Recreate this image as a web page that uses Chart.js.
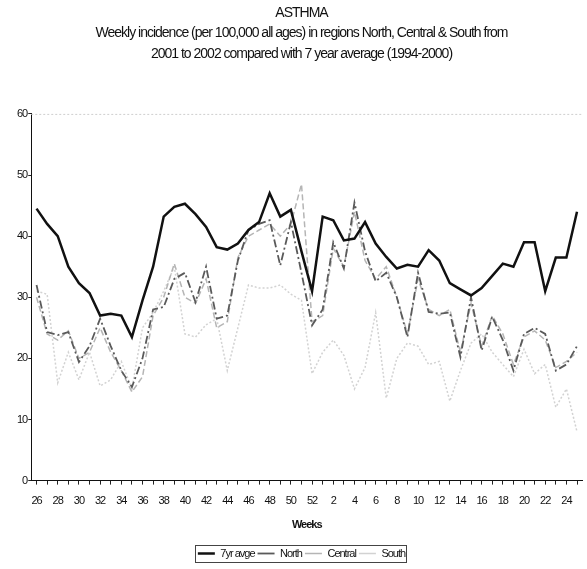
<!DOCTYPE html>
<html lang="en">
<head>
  <meta charset="UTF-8">
  <title>Asthma weekly incidence</title>
  <script src="https://cdn.jsdelivr.net/npm/chart.js"></script>
  <style>
    body {
      margin: 0;
      background: #fff;
    }

    .chart-box {
      width: 587px;
      height: 569px;
    }
  </style>
</head>
<body>

  <div class="chart-box">
    <canvas id="asthmaChart"></canvas>
  </div>

  <script>
    // weeks 26..52 of 2001, then 1..25 of 2002
    const weeks = [26, 27, 28, 29, 30, 31, 32, 33, 34, 35, 36, 37, 38, 39, 40, 41, 42, 43, 44, 45, 46, 47, 48, 49, 50, 51, 52,
      1, 2, 3, 4, 5, 6, 7, 8, 9, 10, 11, 12, 13, 14, 15, 16, 17, 18, 19, 20, 21, 22, 23, 24, 25];

    const avg7yr = [44.5, 42, 40, 35, 32.3, 30.7, 27, 27.3, 27, 23.5, 29.5, 35, 43.2, 44.8, 45.3, 43.6, 41.5, 38.2, 37.8, 38.8, 41, 42.3, 47, 43.2, 44.3, 37.5, 31,
      43.2, 42.6, 39.3, 39.6, 42.3, 38.8, 36.6, 34.7, 35.3, 35, 37.7, 36, 32.3, 31.3, 30.3, 31.5, 33.5, 35.5, 35, 39, 39, 31, 36.5, 36.5, 44];

    const north = [32, 24.3, 23.8, 24.3, 19.4, 22, 26.5, 22, 18, 15.3, 20, 28, 28.4, 33, 34, 29.2, 35, 26.5, 27, 36, 41, 42, 42.6, 35.2, 42.3, 34, 25.4,
      28, 39, 34.7, 45.5, 37.5, 32.6, 34, 30, 23.5, 34, 27.6, 27.3, 27.5, 20.2, 30, 21.3, 26.8, 23, 18, 24, 25, 24, 18, 19, 22];

    const central = [30, 24, 23, 24.5, 20, 21, 25, 21, 18, 14.5, 17, 27, 30, 35.5, 30, 29, 33, 25, 26, 36.5, 40, 41, 42, 40, 42, 48.5, 26,
      27, 38, 35, 44, 36, 33, 35, 30, 24, 33, 28, 27, 28, 21, 29, 22, 27, 24, 19, 23.5, 24.5, 23, 18.5, 19.5, 21];

    const south = [31, 30.5, 16, 21, 16.5, 21, 15.5, 16.5, 19.5, 15, 25, 27.5, 31, 35, 24, 23.5, 25.5, 26.5, 18, 25, 32, 31.5, 31.5, 32, 30.5, 29.5, 17.5,
      21, 23, 20.5, 15, 18.5, 27.5, 13.5, 20, 22.5, 22, 19, 19.5, 13, 18, 22.5, 24, 21, 19, 17, 21.5, 17.5, 19, 12, 15, 8];

    const yTicks = [0, 10, 20, 30, 40, 50, 60];

    const font = '"Liberation Sans", Arial, sans-serif';

    // the original uses a squashed narrow face, so tighten the letters
    const tightText = {
      id: 'tightText',
      beforeUpdate(chart) { chart.ctx.letterSpacing = '-1px'; },
      beforeDraw(chart) { chart.ctx.letterSpacing = '-1px'; }
    };

    // box round the legend + faint dotted top edge
    const framePlugin = {
      id: 'frame',
      afterDraw(chart) {
        const ctx = chart.ctx;
        const area = chart.chartArea;
        ctx.save();
        ctx.strokeStyle = '#cfcfcf';
        ctx.lineWidth = 1;
        ctx.setLineDash([2, 2]);
        ctx.beginPath();
        ctx.moveTo(area.left, area.top + 0.5);
        ctx.lineTo(area.right, area.top + 0.5);
        ctx.stroke();

        const boxes = chart.legend.legendHitBoxes;
        if (boxes && boxes.length) {
          let x1 = Infinity, y1 = Infinity, x2 = -Infinity, y2 = -Infinity;
          boxes.forEach(b => {
            x1 = Math.min(x1, b.left);
            y1 = Math.min(y1, b.top);
            x2 = Math.max(x2, b.left + b.width);
            y2 = Math.max(y2, b.top + b.height);
          });
          ctx.setLineDash([]);
          ctx.strokeStyle = '#444';
          ctx.strokeRect(Math.round(x1 - 3) + 0.5, Math.round(y1 - 3) + 0.5, Math.round(x2 - x1 + 4), Math.round(y2 - y1 + 6));
        }
        ctx.restore();
      }
    };

    const ctx = document.getElementById('asthmaChart').getContext('2d');
    new Chart(ctx, {
      type: 'line',
      data: {
        labels: weeks,
        datasets: [{
          label: '7yr avge',
          data: avg7yr,
          borderColor: '#111',
          borderWidth: 2.5
        }, {
          label: 'North',
          data: north,
          borderColor: '#5a5a5a',
          borderWidth: 1.8,
          borderDash: [8, 3, 2, 3]
        }, {
          label: 'Central',
          data: central,
          borderColor: '#b5b5b5',
          borderWidth: 1.5,
          borderDash: [6, 3]
        }, {
          label: 'South',
          data: south,
          borderColor: '#d2d2d2',
          borderWidth: 1.5,
          borderDash: [2, 2]
        }]
      },
      options: {
        responsive: true,
        maintainAspectRatio: false,
        animation: false,
        elements: {
          point: { radius: 0 },
          line: { tension: 0, fill: false }
        },
        layout: {
          padding: { left: 16, right: 0, top: 0, bottom: 0 }
        },
        scales: {
          x: {
            type: 'category',
            offset: true,
            grid: {
              display: true,
              drawOnChartArea: false,
              drawTicks: true,
              tickLength: 4,
              color: '#222'
            },
            border: { display: true, color: '#111', width: 1 },
            ticks: {
              autoSkip: false,
              maxRotation: 0,
              minRotation: 0,
              padding: 10,
              color: '#111',
              font: { family: font, size: 11 },
              callback: function (value) {
                const w = weeks[value];
                return w % 2 === 0 ? String(w) : '';
              }
            },
            title: {
              display: true,
              text: 'Weeks',
              color: '#111',
              font: { family: font, size: 11, weight: 'bold' },
              padding: { top: 1, bottom: 13 }
            }
          },
          y: {
            min: 0,
            max: 60,
            afterBuildTicks: axis => {
              axis.ticks = yTicks.map(v => ({ value: v }));
            },
            grid: {
              display: true,
              drawOnChartArea: false,
              drawTicks: true,
              tickLength: 3,
              color: '#222'
            },
            border: { display: true, color: '#111', width: 1 },
            ticks: {
              padding: 1,
              color: '#111',
              font: { family: font, size: 11 }
            }
          }
        },
        plugins: {
          title: {
            display: true,
            text: [
              'ASTHMA',
              'Weekly incidence (per 100,000 all ages) in regions North, Central & South from',
              '2001 to 2002 compared with 7 year average (1994-2000)'
            ],
            color: '#111',
            font: { family: font, size: 14, weight: 'normal', lineHeight: 1.45 },
            padding: { top: 3, bottom: 50 }
          },
          legend: {
            position: 'bottom',
            labels: {
              usePointStyle: true,
              pointStyle: 'line',
              pointStyleWidth: 17,
              boxHeight: 8,
              padding: 3,
              color: '#111',
              font: { family: font, size: 11 }
            }
          },
          tooltip: { enabled: false }
        }
      },
      plugins: [tightText, framePlugin]
    });
  </script>

</body>
</html>
